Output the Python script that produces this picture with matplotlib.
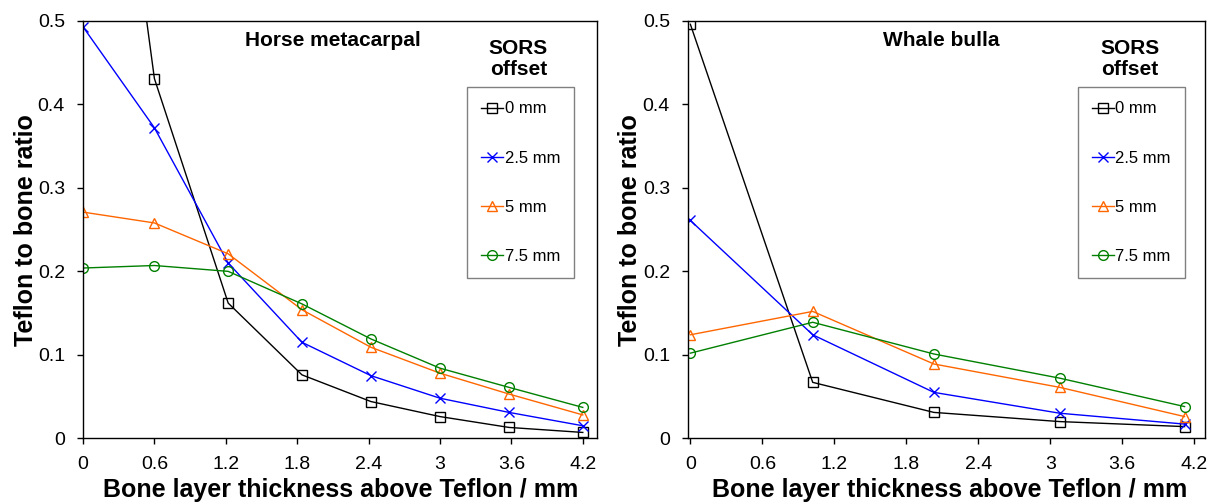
import matplotlib
matplotlib.use('Agg')
import matplotlib.pyplot as plt

plt.rcParams['font.family'] = ['Liberation Sans', 'DejaVu Sans']

# Horse metacarpal panel
horse_x = [0, 0.6, 1.22, 1.84, 2.42, 3.0, 3.58, 4.2]
horse_0mm = [1.07, 0.431, 0.162, 0.076, 0.044, 0.026, 0.013, 0.007]
horse_25mm = [0.493, 0.372, 0.210, 0.115, 0.075, 0.048, 0.031, 0.015]
horse_5mm = [0.271, 0.258, 0.221, 0.154, 0.109, 0.078, 0.053, 0.028]
horse_75mm = [0.204, 0.207, 0.200, 0.161, 0.119, 0.084, 0.061, 0.037]

# Whale bulla panel
whale_x = [0, 1.02, 2.03, 3.08, 4.12]
whale_0mm = [0.496, 0.067, 0.031, 0.020, 0.014]
whale_25mm = [0.261, 0.124, 0.055, 0.030, 0.017]
whale_5mm = [0.124, 0.152, 0.089, 0.061, 0.026]
whale_75mm = [0.102, 0.139, 0.101, 0.072, 0.038]

offset_labels = ['0 mm', '2.5 mm', '5 mm', '7.5 mm']
colors = ['black', '#0000FF', '#FF6600', '#008000']
markers = ['s', 'x', '^', 'o']

xticks = [0, 0.6, 1.2, 1.8, 2.4, 3, 3.6, 4.2]
xtick_labels = ['0', '0.6', '1.2', '1.8', '2.4', '3', '3.6', '4.2']
yticks = [0, 0.1, 0.2, 0.3, 0.4, 0.5]
ytick_labels = ['0', '0.1', '0.2', '0.3', '0.4', '0.5']

fig = plt.figure(figsize=(12.17, 5.04), dpi=100)
ax1 = fig.add_axes([0.0682, 0.1304, 0.4224, 0.828])
ax2 = fig.add_axes([0.5653, 0.1304, 0.4248, 0.828])

# ax, x, series, title, xlim, title x, SORS x, legend x, ylabel x, xlabel x
panels = [
    (ax1, horse_x, [horse_0mm, horse_25mm, horse_5mm, horse_75mm], 'Horse metacarpal',
     (0, 4.32), 0.486, 0.847, 0.747, -0.088, 0.502),
    (ax2, whale_x, [whale_0mm, whale_25mm, whale_5mm, whale_75mm], 'Whale bulla',
     (-0.02, 4.29), 0.489, 0.855, 0.754, -0.089, 0.506),
]

for ax, xs, series, title, xlim, tx, sx, lx, ylx, xlx in panels:
    for ys, lab, col, mk in zip(series, offset_labels, colors, markers):
        ax.plot(xs, ys, color=col, lw=1.0, marker=mk, markersize=7,
                markerfacecolor='none', markeredgecolor=col, markeredgewidth=1.0,
                label=lab)
    ax.set_xlim(*xlim)
    ax.set_ylim(0, 0.5)
    ax.set_xticks(xticks)
    ax.set_xticklabels(xtick_labels)
    ax.set_yticks(yticks)
    ax.set_yticklabels(ytick_labels)
    ax.tick_params(axis='both', direction='out', length=4, width=1, labelsize=14)
    ax.tick_params(axis='x', pad=9)
    ax.tick_params(axis='y', pad=9)
    for sp in ax.spines.values():
        sp.set_linewidth(1.0)
        sp.set_color('black')
    ax.set_ylabel('Teflon to bone ratio', fontsize=18, fontweight='bold')
    ax.set_xlabel('Bone layer thickness above Teflon / mm', fontsize=18, fontweight='bold')
    ax.yaxis.set_label_coords(ylx, 0.5)
    ax.xaxis.set_label_coords(xlx, -0.095)
    ax.text(tx, 0.954, title, transform=ax.transAxes, ha='center', va='center',
            fontsize=15, fontweight='bold')
    ax.text(sx, 0.909, 'SORS\noffset', transform=ax.transAxes, ha='center', va='center',
            fontsize=15, fontweight='bold', linespacing=1.1)
    leg = ax.legend(loc='upper left', bbox_to_anchor=(lx, 0.841), fontsize=12,
                    frameon=True, fancybox=False, edgecolor='#808080', framealpha=1,
                    handlelength=1.3, handletextpad=0.1, labelspacing=2.05,
                    borderpad=0.85, borderaxespad=0, numpoints=1)
    leg.get_frame().set_linewidth(1.0)

fig.savefig('out.png', dpi=100)
